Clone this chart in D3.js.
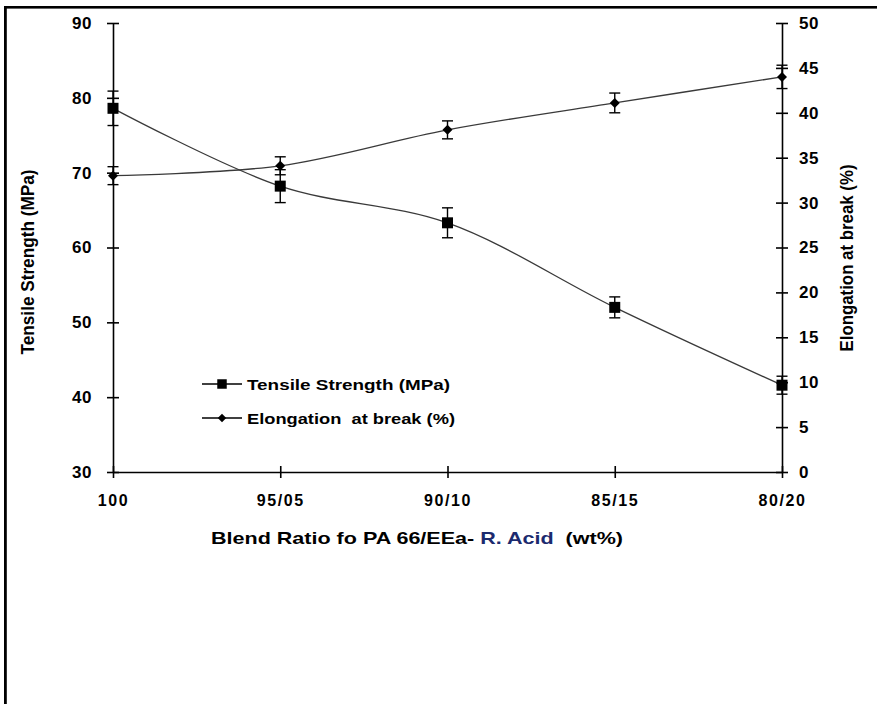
<!DOCTYPE html>
<html lang="en">
<head>
<meta charset="UTF-8">
<script src="https://d3js.org/d3.v7.min.js"></script>
<title>Tensile Strength / Elongation</title>
<style>
  body { margin: 0; background: #fff; }
  text { font-family: "Liberation Sans", Arial, sans-serif; font-weight: bold; fill: #000; }
</style>
</head>
<body>
<svg id="chart" width="877" height="704"></svg>
<script>
// data
const ratios = ["100", "95/05", "90/10", "85/15", "80/20"];
const tensile = [78.6, 68.2, 63.3, 52.0, 41.6];
const tensileErr = [2.3, 2.2, 2.0, 1.4, 1.2];
const elongation = [33.0, 34.1, 38.1, 41.1, 44.0];
const elongationErr = [1.0, 1.0, 1.0, 1.1, 1.3];
const leftTicks = [30, 40, 50, 60, 70, 80, 90];
const rightTicks = [0, 5, 10, 15, 20, 25, 30, 35, 40, 45, 50];

const svg = d3.select("svg#chart");

// frame (top + left edge only)
svg.append("rect").attr("x", 4).attr("y", 6).attr("width", 877).attr("height", 2.6).attr("fill", "#000");
svg.append("rect").attr("x", 4).attr("y", 6).attr("width", 2.8).attr("height", 704).attr("fill", "#000");

const x = d3.scalePoint().domain(ratios).range([113, 782]);
const yL = d3.scaleLinear().domain([30, 90]).range([472, 23]);
const yR = d3.scaleLinear().domain([0, 50]).range([472, 23]);

// axes, ticks cross the axis line
let leftAxis = d3.axisLeft(yL).tickValues(leftTicks).tickSizeInner(6).tickSizeOuter(0).tickPadding(15);
let gl = svg.append("g").attr("transform", "translate(113,0)").call(leftAxis);
gl.selectAll(".tick line").attr("x1", 6);
gl.selectAll(".tick text").style("font-size", "17px").style("letter-spacing", "0.5px");

let rightAxis = d3.axisRight(yR).tickValues(rightTicks).tickSizeInner(6).tickSizeOuter(0).tickPadding(11);
let gr = svg.append("g").attr("transform", "translate(782,0)").call(rightAxis);
gr.selectAll(".tick line").attr("x1", -6);
gr.selectAll(".tick text").style("font-size", "17px").style("letter-spacing", "0.5px");

let bottomAxis = d3.axisBottom(x).tickSizeInner(6).tickSizeOuter(0).tickPadding(17);
let gb = svg.append("g").attr("transform", "translate(0,472)").call(bottomAxis);
gb.selectAll(".tick line").attr("y1", -6);
gb.selectAll(".tick text").style("font-size", "16px").style("letter-spacing", "1.6px");

svg.selectAll(".domain, .tick line").attr("stroke", "#000").attr("stroke-width", 1.6);
svg.selectAll(".tick text").attr("fill", "#000").style("font-family", "'Liberation Sans', Arial, sans-serif");

// axis titles
svg.append("text")
  .attr("transform", "translate(34,262) rotate(-90)")
  .attr("text-anchor", "middle")
  .attr("textLength", 185).attr("lengthAdjust", "spacingAndGlyphs")
  .style("font-size", "19px")
  .text("Tensile Strength (MPa)");

svg.append("text")
  .attr("transform", "translate(853,258) rotate(-90)")
  .attr("text-anchor", "middle")
  .attr("textLength", 187).attr("lengthAdjust", "spacingAndGlyphs")
  .style("font-size", "19px")
  .text("Elongation at break (%)");

let xt = svg.append("text")
  .attr("x", 211).attr("y", 544)
  .attr("textLength", 412).attr("lengthAdjust", "spacingAndGlyphs")
  .style("font-size", "17px")
  .style("white-space", "pre");
xt.append("tspan").text("Blend Ratio fo PA 66/EEa- ");
xt.append("tspan").style("fill", "#1c2a6e").text("R. Acid");
xt.append("tspan").text("  (wt%)");

// series
const tData = ratios.map((r, i) => ({ r: r, v: tensile[i], e: tensileErr[i] }));
const eData = ratios.map((r, i) => ({ r: r, v: elongation[i], e: elongationErr[i] }));

function drawSeries(data, y, symbolType, size, rotate) {
  const g = svg.append("g");
  const line = d3.line()
    .x(d => x(d.r))
    .y(d => y(d.v))
    .curve(d3.curveCatmullRom.alpha(0.5));
  g.append("path").datum(data)
    .attr("fill", "none")
    .attr("stroke", "#3a3a3a")
    .attr("stroke-width", 1.3)
    .attr("d", line);

  const eb = g.selectAll(".err").data(data).join("g").attr("class", "err");
  eb.append("line")
    .attr("x1", d => x(d.r)).attr("x2", d => x(d.r))
    .attr("y1", d => y(d.v + d.e)).attr("y2", d => y(d.v - d.e));
  eb.append("line")
    .attr("x1", d => x(d.r) - 5.5).attr("x2", d => x(d.r) + 5.5)
    .attr("y1", d => y(d.v + d.e)).attr("y2", d => y(d.v + d.e));
  eb.append("line")
    .attr("x1", d => x(d.r) - 5.5).attr("x2", d => x(d.r) + 5.5)
    .attr("y1", d => y(d.v - d.e)).attr("y2", d => y(d.v - d.e));
  eb.selectAll("line").attr("stroke", "#000").attr("stroke-width", 1.4);

  g.selectAll(".mk").data(data).join("path")
    .attr("class", "mk")
    .attr("d", d3.symbol(symbolType, size))
    .attr("transform", d => "translate(" + x(d.r) + "," + y(d.v) + ") rotate(" + rotate + ")")
    .attr("fill", "#000");
}

drawSeries(tData, yL, d3.symbolSquare, 121, 0);
drawSeries(eData, yR, d3.symbolSquare, 50, 45);

// legend
const legend = [
  { label: "Tensile Strength (MPa)", size: 90, rot: 0, len: 203 },
  { label: "Elongation  at break (%)", size: 36, rot: 45, len: 208 }
];
const lg = svg.append("g").selectAll("g").data(legend).join("g")
  .attr("transform", (d, i) => "translate(0," + (384 + i * 34) + ")");
lg.append("line").attr("x1", 202).attr("x2", 242).attr("y1", 0).attr("y2", 0)
  .attr("stroke", "#000").attr("stroke-width", 1.3);
lg.append("path")
  .attr("d", d => d3.symbol(d3.symbolSquare, d.size)())
  .attr("transform", d => "translate(222,0) rotate(" + d.rot + ")")
  .attr("fill", "#000");
lg.append("text")
  .attr("x", 247).attr("y", 6)
  .attr("textLength", d => d.len).attr("lengthAdjust", "spacingAndGlyphs")
  .style("font-size", "15px")
  .style("white-space", "pre")
  .text(d => d.label);
</script>
</body>
</html>
